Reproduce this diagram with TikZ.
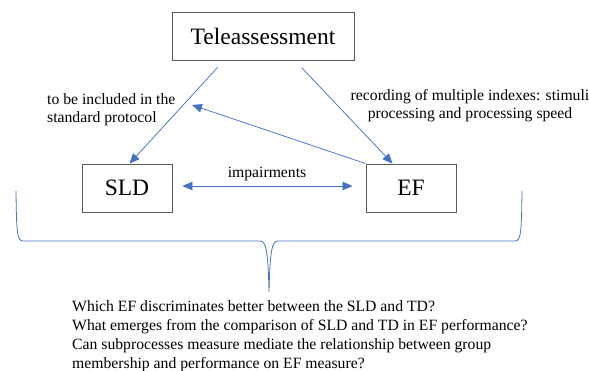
\documentclass[tikz,border=0pt]{standalone}
\usepackage{fontspec}
\setmainfont{Liberation Serif}
\newfontfamily\tnr{Liberation Serif}
\usetikzlibrary{arrows.meta,calc}
\definecolor{lineblue}{RGB}{68,114,196}
\definecolor{boxgray}{RGB}{89,89,89}
\tikzset{
  box/.style={draw=boxgray, line width=0.9pt, minimum height=48pt, inner sep=0pt,
              font=\tnr\fontsize{23.5}{26}\selectfont},
  conn/.style={draw=lineblue, line width=0.75pt,
               -{Triangle[length=10pt,width=8.5pt]}},
  dconn/.style={draw=lineblue, line width=0.75pt,
               {Triangle[length=10pt,width=8.5pt]}-{Triangle[length=10pt,width=8.5pt]}},
  lbl/.style={inner sep=0pt, font=\tnr\fontsize{15.7}{18}\selectfont},
  qtext/.style={inner sep=0pt, font=\tnr\fontsize{15.7}{19}\selectfont, align=left},
  bracestyle/.style={draw=lineblue, line width=0.8pt}
}
\begin{document}
\begin{tikzpicture}[x=1pt,y=-1pt]
\useasboundingbox (0,0) rectangle (589,370);
% boxes
\node[box, minimum width=182pt] (tele) at (263,36) {Teleassessment};
\node[box, minimum width=90pt] (sld) at (127,188) {SLD};
\node[box, minimum width=90pt] (ef) at (411,188) {EF};
% labels
\node[lbl, align=left, anchor=north west] (lleft) at (47,93) {to be included in the\\standard protocol};
\node[lbl, align=center, anchor=north] (lright) at (470,89) {recording of multiple indexes: stimuli\\processing and processing speed};
\node[lbl, anchor=center] (imp) at (267,174) {impairments};
\coordinate (tip) at (192,105);
% connectors
\draw[conn] ([xshift=46pt,yshift=-7pt]tele.south west) -- ([xshift=48pt]sld.north west);
\draw[conn] ([xshift=130pt,yshift=-7pt]tele.south west) -- ([xshift=27pt]ef.north west);
\draw[conn] (ef.north west) -- (tip);
\draw[dconn] ([xshift=10pt,yshift=2pt]sld.east) -- ([xshift=-13pt,yshift=2pt]ef.west);
% brace
\draw[bracestyle] (16,191) .. controls (16.5,232) and (17,241) .. (23,241)
  -- (260,241) .. controls (266,241) and (268,250) .. (269,292)
  .. controls (270,250) and (272,241) .. (278,241)
  -- (515,241) .. controls (521,241) and (521.5,232) .. (522,191);
% questions
\node[qtext, anchor=north west] (q) at (72,300) {Which EF discriminates better between the SLD and TD?\\What emerges from the comparison of SLD and TD in EF performance?\\Can subprocesses measure mediate the relationship between group\\membership and performance on EF measure?};
\end{tikzpicture}
\end{document}
